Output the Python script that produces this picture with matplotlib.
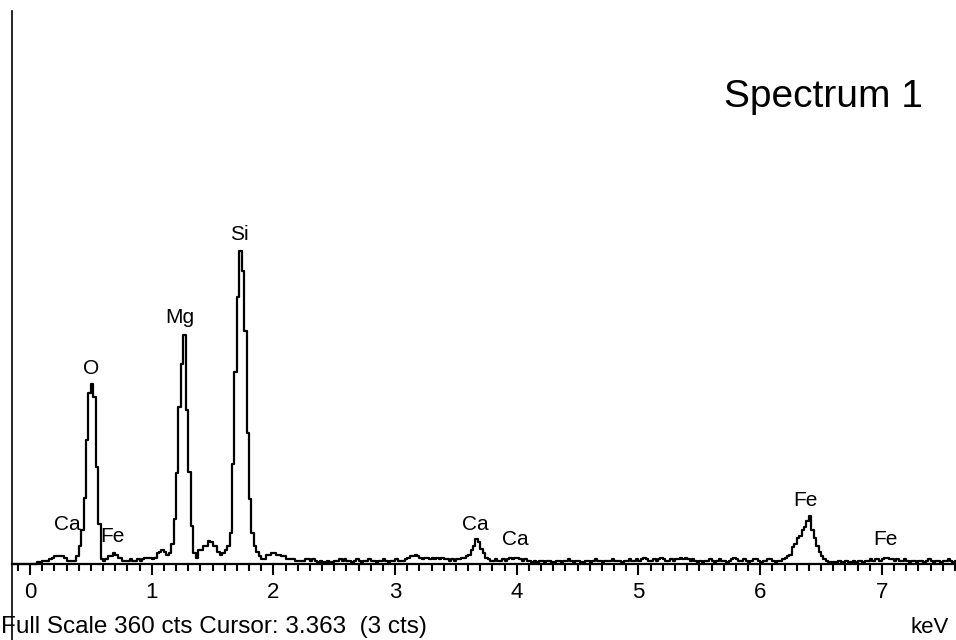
import numpy as np
import matplotlib.pyplot as plt
from matplotlib.ticker import MultipleLocator, FixedLocator

plt.rcParams['font.family'] = ['Liberation Sans', 'DejaVu Sans']

# EDS spectrum, 0.02 keV channels, first channel centred at -0.13 keV
e_start = -0.13
e_step = 0.02
counts = [
    0, 0, 0, 0, 0, 0, 0, 0, 0, 0, 1, 1, 2, 2, 2, 3, 4, 5, 5, 5, 5, 4, 2, 2, 2,
    2, 5, 12, 22, 43, 81, 111, 117, 109, 63, 26, 3, 2, 3, 5, 5, 7, 6, 4, 4, 2, 2, 2, 3, 2,
    2, 3, 2, 3, 4, 4, 4, 3, 4, 7, 8, 9, 8, 6, 7, 13, 29, 59, 102, 130, 149, 100, 60, 25, 7,
    4, 9, 9, 12, 12, 15, 14, 12, 12, 8, 6, 7, 9, 12, 20, 65, 125, 174, 204, 191, 152, 85, 42, 20, 12,
    8, 5, 3, 3, 6, 6, 7, 7, 6, 6, 5, 5, 3, 3, 3, 3, 2, 2, 2, 2, 3, 3, 2, 3, 2,
    1, 2, 1, 1, 2, 1, 1, 2, 2, 3, 2, 3, 2, 2, 1, 2, 3, 2, 1, 2, 2, 3, 2, 2, 1,
    2, 2, 3, 2, 1, 2, 2, 3, 2, 2, 2, 3, 4, 5, 5, 6, 5, 4, 3, 4, 4, 3, 4, 3, 4,
    3, 4, 3, 3, 2, 3, 2, 3, 3, 4, 4, 5, 6, 9, 12, 16, 14, 10, 7, 4, 3, 2, 2, 3, 2,
    2, 3, 2, 3, 4, 3, 4, 4, 3, 2, 3, 2, 2, 1, 2, 1, 2, 2, 1, 2, 2, 1, 1, 2, 2,
    1, 2, 2, 3, 2, 1, 2, 2, 1, 1, 2, 2, 1, 2, 3, 2, 2, 1, 2, 2, 2, 3, 2, 2, 2,
    1, 2, 2, 3, 2, 2, 3, 2, 3, 4, 3, 2, 2, 3, 2, 3, 4, 3, 2, 2, 3, 2, 3, 3, 4,
    3, 4, 3, 2, 3, 2, 1, 2, 1, 2, 2, 3, 2, 1, 2, 3, 2, 2, 1, 2, 3, 4, 3, 2, 2,
    3, 2, 1, 2, 3, 3, 2, 1, 2, 2, 3, 3, 2, 1, 2, 2, 3, 4, 5, 6, 11, 13, 17, 18, 22,
    24, 28, 31, 22, 17, 12, 8, 5, 3, 2, 1, 1, 1, 1, 2, 1, 1, 2, 1, 1, 2, 1, 2, 2, 1,
    2, 2, 3, 2, 3, 3, 2, 3, 4, 4, 3, 3, 2, 3, 2, 2, 3, 2, 1, 2, 2, 1, 2, 2, 1,
    2, 3, 2, 1, 2, 2, 1, 2, 2, 3, 2, 1, 2,
]
energy = e_start + e_step * np.arange(len(counts))

# peak labels (element, x in keV, y in counts)
peak_names = ['O', 'Mg', 'Si', 'Ca', 'Fe', 'Ca', 'Ca', 'Fe', 'Fe']
peak_x = [0.50, 1.23, 1.717, 0.31, 0.68, 3.66, 3.985, 6.37, 7.03]
peak_y = [124, 157, 211, 22, 14.3, 22, 12.4, 38, 12.4]

full_scale = 360
x_left, x_right = -0.148, 7.609

fig = plt.figure(figsize=(9.56, 6.4), dpi=100)
ax = fig.add_axes([0, 0, 1, 1])
ax.set_xlim(-0.2465, x_right)
ax.set_ylim(-49.5, 367.2)

ax.step(energy, counts, where='mid', color='black', linewidth=1.6)

for name, x, y in zip(peak_names, peak_x, peak_y):
    ax.text(x, y, name, ha='center', va='baseline', fontsize=15)

# axes drawn like the EDS software: baseline at 0 cts, left line
for side in ['top', 'right']:
    ax.spines[side].set_visible(False)
ax.spines['bottom'].set_position(('data', 0))
ax.spines['bottom'].set_bounds(x_left, x_right)
ax.spines['bottom'].set_linewidth(1.6)
ax.spines['left'].set_position(('data', x_left))
ax.spines['left'].set_bounds(-49.5, full_scale)
ax.spines['left'].set_linewidth(1.2)

ax.xaxis.set_major_locator(MultipleLocator(1))
ax.xaxis.set_minor_locator(FixedLocator(np.arange(-1, 77) / 10))
ax.tick_params(axis='x', which='major', direction='out', length=8, width=1.5,
               labelsize=16, pad=5)
ax.tick_params(axis='x', which='minor', direction='out', length=5, width=1.5)
ax.set_yticks([])

fig.text(0.001, 7 / 640, 'Full Scale 360 cts Cursor: 3.363  (3 cts)',
         ha='left', va='baseline', fontsize=17.5)
fig.text(949 / 956, 7 / 640, 'keV', ha='right', va='baseline', fontsize=16)
fig.text(724 / 956, 533 / 640, 'Spectrum 1', ha='left', va='baseline', fontsize=28)

fig.savefig('out.png', dpi=100)
